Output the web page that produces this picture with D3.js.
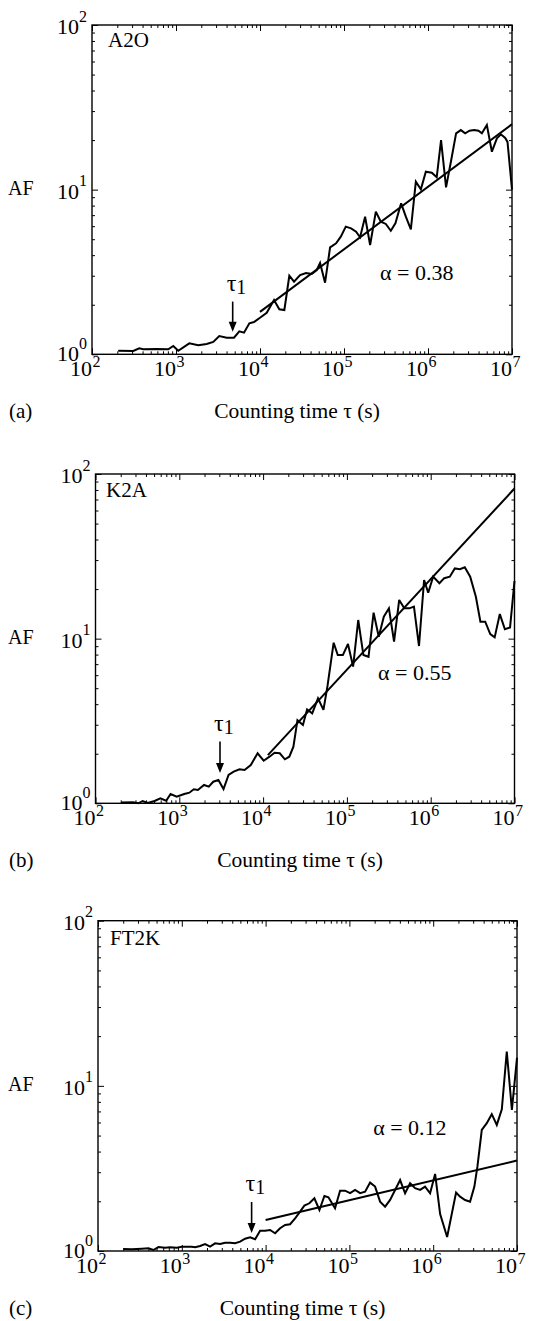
<!DOCTYPE html>
<html>
<head>
<meta charset="utf-8">
<script src="https://cdn.jsdelivr.net/npm/d3@7"></script>
<style>
  html, body { margin: 0; padding: 0; background: #fff; }
  svg { display: block; }
  text { font-family: "Liberation Serif", "Times New Roman", "DejaVu Serif", serif; fill: #000; }
</style>
</head>
<body>
<svg id="chart" width="535" height="1321"></svg>
<script>
// ---------------- data ----------------
const panelNames = ["A2O", "K2A", "FT2K"];
const panelLetters = ["(a)", "(b)", "(c)"];
const xTickExponents = [2, 3, 4, 5, 6, 7];
const yTickExponents = [0, 1, 2];
const xAxisTitle = "Counting time \u03c4 (s)";
const yAxisTitle = "AF";

const tauA = [205,310,365,407,588,809,928,1064,1439,1841,2317,2778,3275,4014,4900,5670,6450,7470,8490,10000,
  12020,14690,16980,19500,22340,25420,29980,35320,41300,47400,51900,59500,68300,80500,91600,
  105000,121400,139200,155500,178300,204600,239300,274300,314600,360700,409400,478600,544600,625000,716600,
  822200,942400,1.11e6,1.27e6,1.43e6,1.64e6,1.89e6,2.16e6,2.46e6,2.77e6,3.12e6,3.55e6,3.99e6,4.38e6,5.02e6,
  5.76e6,6.61e6,7.38e6,8.3e6,8.84e6,1e7];
const afA = [1.05,1.047,1.087,1.072,1.077,1.072,1.123,1.05,1.166,1.134,1.155,1.188,1.291,1.261,1.261,1.379,1.353,1.543,1.571,1.668,
  1.789,2.137,1.876,1.858,3.0,2.761,3.03,3.117,3.074,3.25,3.585,2.722,4.466,4.72,5.18,
  5.96,5.82,5.56,5.14,6.85,4.61,7.35,6.39,6.19,5.63,6.25,8.26,6.85,5.74,11.17,
  10.05,12.85,12.68,11.89,20.0,10.33,15.14,21.98,23.0,22.0,22.8,23.0,22.8,22.0,24.7,
  17.0,20.5,21.7,20.6,19.5,10.0];

const tauB = [202,281,324,365,420,507,594,697,787,931,1145,1320,1489,1667,1972,2250,2540,2930,3370,3870,
  4456,5225,6010,7130,8600,10160,11920,13700,15810,18200,20550,23000,25700,29900,33500,38550,45200,52500,58700,69500,
  77800,89500,103000,118600,136500,157400,181100,208300,239900,275700,317200,365400,420700,484000,557000,
  631000,725000,834000,934000,1.07e6,1.27e6,1.45e6,1.69e6,1.94e6,2.23e6,2.55e6,2.96e6,3.46e6,3.92e6,4.47e6,
  5.14e6,5.8e6,6.68e6,7.68e6,8.85e6,1e7];
const afB = [1.01,1.014,1.0,1.033,1.005,1.033,1.072,1.037,1.139,1.097,1.139,1.16,1.216,1.205,1.292,1.262,1.352,1.385,1.221,1.485,
  1.556,1.609,1.593,1.708,2.013,1.814,1.919,2.03,2.013,1.85,1.919,2.207,3.2,2.99,3.72,3.52,4.34,3.69,5.16,9.45,
  7.95,7.95,9.28,6.76,12.98,7.95,7.76,14.38,10.28,13.6,15.28,9.58,17.17,15.28,15.28,
  15.64,9.02,22.7,19.0,23.8,21.7,23.3,23.8,26.7,26.4,27.1,23.8,17.98,12.68,12.68,
  10.67,10.18,14.1,11.4,11.7,22.4];

const tauC = [201,253,333,400,458,526,632,725,871,1000,1148,1316,1442,1653,1897,2177,2496,2864,3288,3770,
  4325,4963,5690,6530,7497,8600,9860,11320,12980,14890,17100,19600,22500,25800,29000,33300,38200,43900,50300,56200,
  67400,77400,88800,101900,116900,134200,153900,176600,202600,232400,266700,306000,351000,402700,462000,
  530000,608000,698000,800000,918000,1.054e6,1.21e6,1.466e6,1.875e6,2.094e6,2.4e6,2.755e6,3.1e6,3.37e6,3.8e6,
  4.36e6,5.0e6,5.74e6,6.59e6,7.55e6,8.69e6,1e7];
const afC = [1.028,1.024,1.033,1.038,1.014,1.057,1.047,1.053,1.047,1.062,1.062,1.062,1.053,1.072,1.102,1.062,1.113,1.102,1.122,1.122,
  1.113,1.139,1.187,1.211,1.178,1.327,1.327,1.34,1.28,1.373,1.438,1.452,1.578,1.73,1.882,1.945,2.085,1.772,2.154,2.116,
  1.815,2.32,2.32,2.24,2.344,2.24,2.287,2.594,2.455,1.99,1.856,2.037,2.343,2.69,2.237,
  2.57,2.399,2.343,2.453,2.237,2.93,1.675,1.216,2.256,2.133,2.037,1.99,2.453,3.24,5.41,
  5.94,6.74,5.8,7.22,16.14,7.15,14.8];

// power-law fits: AF = AF0 * (tau / tau0)^alpha, drawn from tau0 to 1e7
const fitAlpha = [0.38, 0.55, 0.12];
const fitTau0 = [1e4, 1.14e4, 1e4];
const fitAF0 = [1.81, 1.963, 1.54];
const fitTauEnd = [1e7, 1e7, 1e7];

// tau1 arrows (tau position, AF at arrow top, AF at arrow tip)
const tau1 = [4730, 3060, 6810];
const arrowTopAF = [2.09, 2.37, 1.98];
const arrowTipAF = [1.37, 1.53, 1.285];

// alpha labels (anchor in data coords)
const alphaLabelTau = [2.69e5, 2.35e5, 1.92e5];
const alphaLabelAF = [2.83, 5.61, 5.05];

// ---------------- layout ----------------
const boxes = [
  {left: 92, right: 512, top: 25, bottom: 354.3, nameDx: 16, nameDy: 22},
  {left: 95.5, right: 514.5, top: 474, bottom: 803.3, nameDx: 10.5, nameDy: 23},
  {left: 98, right: 517, top: 920.7, bottom: 1251, nameDx: 12, nameDy: 24}
];
const seriesTau = [tauA, tauB, tauC];
const seriesAF = [afA, afB, afC];

const svg = d3.select("#chart");
svg.append("rect").attr("width", 535).attr("height", 1321).attr("fill", "#fff");

boxes.forEach((b, i) => {
  const g = svg.append("g");
  const x = d3.scaleLog().domain([1e2, 1e7]).range([b.left, b.right]);
  const y = d3.scaleLog().domain([1, 100]).range([b.bottom, b.top]);

  const majorX = xTickExponents.map(e => Math.pow(10, e));
  const minorX = [];
  for (let e = 2; e < 7; e++) for (let m = 2; m <= 9; m++) minorX.push(m * Math.pow(10, e));
  const majorY = yTickExponents.map(e => Math.pow(10, e));
  const minorY = [];
  for (let e = 0; e < 2; e++) for (let m = 2; m <= 9; m++) minorY.push(m * Math.pow(10, e));

  const majLen = 6, minLen = 3;
  function addAxis(axis, transform) {
    const a = g.append("g").attr("transform", transform).call(axis);
    a.select(".domain").remove();
    a.selectAll("line").attr("stroke", "#000").attr("stroke-width", 1);
  }
  // bottom / top
  addAxis(d3.axisBottom(x).tickValues(majorX).tickSize(-majLen).tickFormat(""), `translate(0,${b.bottom})`);
  addAxis(d3.axisBottom(x).tickValues(minorX).tickSize(-minLen).tickFormat(""), `translate(0,${b.bottom})`);
  addAxis(d3.axisTop(x).tickValues(majorX).tickSize(-majLen).tickFormat(""), `translate(0,${b.top})`);
  addAxis(d3.axisTop(x).tickValues(minorX).tickSize(-minLen).tickFormat(""), `translate(0,${b.top})`);
  // left / right
  addAxis(d3.axisLeft(y).tickValues(majorY).tickSize(-majLen).tickFormat(""), `translate(${b.left},0)`);
  addAxis(d3.axisLeft(y).tickValues(minorY).tickSize(-minLen).tickFormat(""), `translate(${b.left},0)`);
  addAxis(d3.axisRight(y).tickValues(majorY).tickSize(-majLen).tickFormat(""), `translate(${b.right},0)`);
  addAxis(d3.axisRight(y).tickValues(minorY).tickSize(-minLen).tickFormat(""), `translate(${b.right},0)`);

  // frame
  g.append("rect")
    .attr("x", b.left).attr("y", b.top)
    .attr("width", b.right - b.left).attr("height", b.bottom - b.top)
    .attr("fill", "none").attr("stroke", "#000").attr("stroke-width", 1.4);

  // x tick labels
  xTickExponents.forEach(e => {
    const px = x(Math.pow(10, e));
    g.append("text").attr("x", px).attr("y", b.bottom + 22)
      .attr("text-anchor", "end").attr("font-size", 22).text("10");
    g.append("text").attr("x", px + 0.5).attr("y", b.bottom + 13)
      .attr("text-anchor", "start").attr("font-size", 16).text(e);
  });
  // y tick labels
  yTickExponents.forEach(e => {
    const py = y(Math.pow(10, e));
    const t = g.append("text").attr("x", b.left - 5).attr("y", py + (e === 0 ? 7 : 9))
      .attr("text-anchor", "end").attr("font-size", 22);
    t.append("tspan").text("10");
    t.append("tspan").attr("font-size", 16).attr("dy", -12.5).text(e);
  });

  // axis titles
  g.append("text").attr("x", 8).attr("y", (b.top + b.bottom) / 2 + 5.5)
    .attr("font-size", 20).text(yAxisTitle);
  g.append("text").attr("x", (b.left + b.right) / 2 - 5).attr("y", b.bottom + 64)
    .attr("text-anchor", "middle").attr("font-size", 21.5).text(xAxisTitle);
  g.append("text").attr("x", 9).attr("y", b.bottom + 64)
    .attr("font-size", 21).text(panelLetters[i]);

  // panel name
  g.append("text").attr("x", b.left + b.nameDx).attr("y", b.top + b.nameDy)
    .attr("font-size", 21).text(panelNames[i]);

  // data line
  const pts = seriesTau[i].map((t, k) => [t, seriesAF[i][k]]);
  const line = d3.line().x(d => x(d[0])).y(d => y(d[1]));
  g.append("path").datum(pts).attr("d", line)
    .attr("fill", "none").attr("stroke", "#000").attr("stroke-width", 2)
    .attr("stroke-linejoin", "miter").attr("stroke-miterlimit", 3);

  // fit line
  const fitPts = [fitTau0[i], fitTauEnd[i]].map(t => [t, fitAF0[i] * Math.pow(t / fitTau0[i], fitAlpha[i])]);
  g.append("path").datum(fitPts).attr("d", line)
    .attr("fill", "none").attr("stroke", "#000").attr("stroke-width", 2);

  // alpha label
  g.append("text").attr("x", x(alphaLabelTau[i])).attr("y", y(alphaLabelAF[i]))
    .attr("font-size", 22).text("\u03b1 = " + fitAlpha[i].toFixed(2));

  // tau1 arrow
  const ax = x(tau1[i]);
  const aTop = y(arrowTopAF[i]);
  const aTip = y(arrowTipAF[i]);
  const headLen = 10, headHalf = 4;
  g.append("line").attr("x1", ax).attr("x2", ax).attr("y1", aTop).attr("y2", aTip - headLen + 1)
    .attr("stroke", "#000").attr("stroke-width", 1.6);
  g.append("path")
    .attr("d", `M${ax - headHalf},${aTip - headLen} L${ax + headHalf},${aTip - headLen} L${ax},${aTip} Z`)
    .attr("fill", "#000");
  const lab = g.append("text").attr("x", ax - 6).attr("y", aTop - 11).attr("font-size", 24);
  lab.append("tspan").text("\u03c4");
  lab.append("tspan").attr("font-size", 20).attr("dy", 3).text("1");
});
</script>
</body>
</html>
